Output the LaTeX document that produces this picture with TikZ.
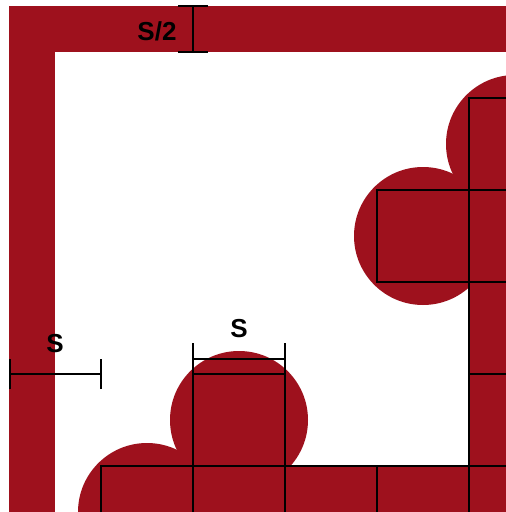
\documentclass[tikz,border=0pt]{standalone}
\usepackage{fontspec}
\setmainfont{Liberation Sans}
\definecolor{brick}{RGB}{158,17,29}
\begin{document}
\begin{tikzpicture}[x=1pt,y=-1pt,
  cellline/.style={draw=black,line width=1.7pt},
  dimline/.style={draw=black,line width=2.2pt},
  dimtick/.style={draw=black,line width=2.8pt},
  lab/.style={font=\bfseries\fontsize{26}{26}\selectfont,anchor=base,inner sep=0pt}]
\useasboundingbox (0,0) rectangle (506,512);
\clip (0,0) rectangle (506,512);
\fill[white] (0,0) rectangle (506,512);
% border frame
\fill[brick] (9,6) rectangle (506,52);
\fill[brick] (9,6) rectangle (55,512);
% circles
\fill[brick] (239,420) circle (69pt);
\fill[brick] (147,512) circle (69pt);
\fill[brick] (423,236) circle (69pt);
\fill[brick] (515,144) circle (69pt);
% cells
\foreach \x/\y in {101/466,193/466,285/466,377/466,469/466,469/374,469/282,469/190,469/98,193/374,377/190}
  \fill[brick] (\x,\y) rectangle ++(92,92);
\foreach \x/\y in {101/466,193/466,285/466,377/466,469/466,469/374,469/282,469/190,469/98,193/374,377/190}
  \draw[cellline] (\x,\y) rectangle ++(92,92);
% dimension S (left)
\coordinate (a1) at (10,374);
\coordinate (a2) at (101,374);
\draw[dimline] (a1) -- (a2);
\draw[dimtick] ([yshift=-15pt]a1) -- ([yshift=15pt]a1);
\draw[dimtick] ([yshift=-15pt]a2) -- ([yshift=15pt]a2);
\node[lab] (sl) at (55,352) {S};
% dimension S (cell)
\coordinate (b1) at (193,359);
\coordinate (b2) at (285,359);
\draw[dimline] (b1) -- (b2);
\draw[dimtick] (193,343) -- (193,374);
\draw[dimtick] (285,343) -- (285,374);
\node[lab] (sc) at (239,337) {S};
% dimension S/2
\coordinate (c1) at (193,6);
\coordinate (c2) at (193,52);
\draw[dimline] (c1) -- (c2);
\draw[dimtick] (178,6) -- (208,6);
\draw[dimtick] (178,52) -- (208,52);
\node[lab] (sh) at (157,40) {S/2};
\end{tikzpicture}
\end{document}
